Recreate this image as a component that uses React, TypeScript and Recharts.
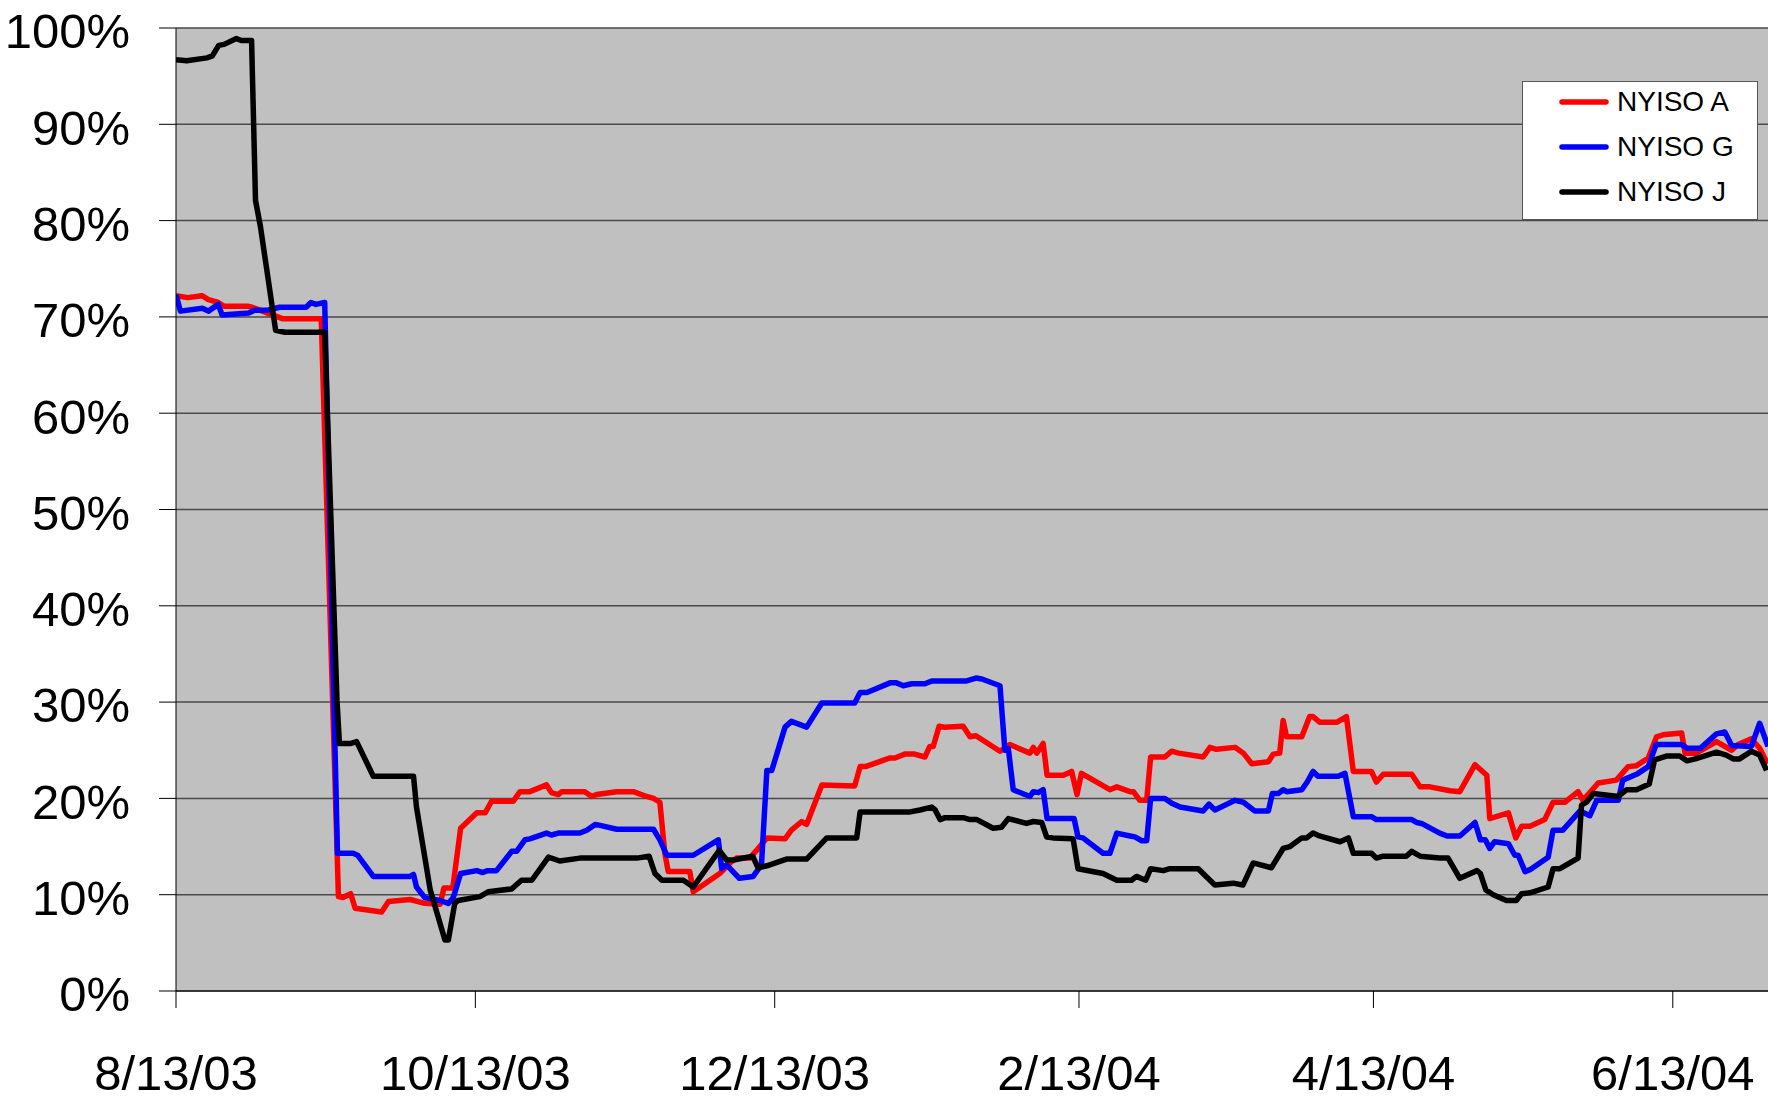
import { LineChart, Line, XAxis, YAxis, CartesianGrid, Legend } from "recharts"

const FONT = "'Liberation Sans', Arial, sans-serif"

// x axis: days since 8/13/03
const tickDays = [0, 61, 122, 184, 244, 305]
const tickLabels = ["8/13/03", "10/13/03", "12/13/03", "2/13/04", "4/13/04", "6/13/04"]
const pctTicks = [0, 10, 20, 30, 40, 50, 60, 70, 80, 90, 100]

const redDays = [
  0, 2.4, 5.3, 6.6, 8.6, 9.8, 14.8, 15.5, 18.7, 21.8, 29.6, 33.1, 34, 35.6, 36.5, 41.9, 43.3, 47.7, 50.7, 53.8,
  54.6, 56.4, 58, 61.3, 63, 64.3, 68.7, 70.1, 72.1, 75.5, 76.5, 77.9, 78.6, 83.3, 84.7, 85.7, 89.8, 93.2, 95.9, 97.3,
  98.6, 99.6, 100.3, 104.7, 105.4, 110.8, 112.9, 114.2, 116.9, 118.3, 120.4, 124.1, 125.4, 127.5, 128.5, 131.6, 138.3, 139.4, 140.5, 145.5,
  146.5, 148.5, 150.5, 152.6, 153.6, 154.3, 155.5, 156.5, 160.4, 161.8, 163, 167.9, 169.9, 174, 174.7, 175.4, 176.7, 177.5, 180.8, 182.5,
  183.6, 184.5, 190.3, 191.7, 194.4, 195.1, 196.4, 197.8, 198.6, 201.5, 202.9, 204.3, 209.3, 210.7, 212, 215.8, 217.5, 219.2, 222.6, 223.6,
  224.9, 225.6, 226.3, 229.4, 231, 231.7, 233.1, 236.5, 238.5, 239.9, 243.6, 244.6, 246, 251.8, 253.5, 255.5, 259.6, 261.6, 264.7, 267.1,
  267.7, 271.5, 273, 274.2, 275.9, 278.9, 280.6, 283, 285.7, 286.7, 289.8, 293.5, 295.9, 297.6, 300, 301.7, 303, 306.8, 307.5, 309.8,
  313.9, 317, 318.3, 321, 322.7, 324.3,
]
const redVals = [
  72.2, 72.0, 72.2, 71.8, 71.5, 71.1, 71.1, 71.0, 70.4, 69.8, 69.8, 9.8, 9.7, 10.1, 8.6, 8.2, 9.3, 9.5, 9.1, 9.0,
  10.7, 10.7, 16.9, 18.5, 18.5, 19.7, 19.7, 20.7, 20.7, 21.4, 20.6, 20.4, 20.7, 20.7, 20.2, 20.4, 20.7, 20.7, 20.2, 20.0,
  19.6, 14.3, 12.4, 12.4, 10.3, 12.2, 13.3, 13.8, 13.8, 14.6, 15.9, 15.8, 16.7, 17.6, 17.3, 21.4, 21.3, 23.3, 23.3, 24.2,
  24.2, 24.6, 24.6, 24.3, 25.4, 25.4, 27.5, 27.4, 27.5, 26.4, 26.5, 24.9, 25.6, 24.7, 25.3, 24.7, 25.7, 22.4, 22.4, 22.8,
  20.4, 22.6, 20.9, 21.2, 20.7, 20.7, 19.8, 19.8, 24.3, 24.3, 24.9, 24.7, 24.3, 25.3, 25.1, 25.3, 24.7, 23.6, 23.8, 24.6,
  24.7, 28.1, 26.4, 26.4, 28.5, 28.5, 27.9, 27.9, 28.5, 22.8, 22.8, 21.7, 22.5, 22.5, 21.2, 21.2, 20.8, 20.7, 23.5, 22.4,
  17.9, 18.5, 15.9, 17.1, 17.1, 17.8, 19.6, 19.6, 20.7, 19.8, 21.6, 21.9, 23.3, 23.4, 24.2, 26.4, 26.6, 26.8, 24.7, 24.7,
  25.9, 25.0, 25.6, 26.2, 25.2, 23.6,
]

const blueDays = [
  0, 0.9, 5.4, 6.6, 8.6, 9.4, 14.8, 16, 18.7, 21.1, 26.5, 27.5, 28.5, 30.3, 32.9, 36.1, 37, 40.2, 47.7, 48.4,
  49, 50.7, 53.8, 55.5, 56.5, 58, 61.3, 62.5, 63.5, 65.3, 68.4, 69.4, 71.1, 72.1, 75.5, 76.5, 77.9, 82.3, 83.7, 85.4,
  86.4, 89.8, 97.3, 98.6, 100, 105.4, 110.5, 111.2, 112.2, 114.8, 117.6, 119.3, 120.4, 121.4, 124.1, 125.4, 128.5, 131.6, 138.3, 139.4,
  140.8, 145.5, 146.8, 148.2, 149.9, 152.6, 154, 161.1, 163, 164.2, 167.9, 168.9, 169.6, 170.6, 174, 174.7, 175.7, 176.7, 177.5, 183,
  183.8, 184.8, 188.9, 190.3, 191.7, 194.4, 195.4, 196.8, 197.8, 198.6, 201.5, 202.9, 204.6, 209.3, 210.5, 211.7, 215.8, 217.5, 219.8, 222.6,
  223.4, 224.6, 225.6, 226.3, 229.4, 230.5, 231.7, 232.7, 236.8, 238.2, 239.9, 243.6, 244.6, 251.8, 252.8, 253.8, 257.5, 259, 261.6, 264.7,
  265.8, 266.8, 267.7, 268.7, 271.5, 272.8, 273.5, 274.9, 275.9, 279.6, 280.6, 282.6, 286.1, 288.1, 289.5, 293.9, 294.8, 297.6, 300, 301.6,
  306.8, 307.9, 310.6, 313.9, 315.6, 317, 321, 322.7, 324.4,
]
const blueVals = [
  72.3, 70.6, 70.9, 70.6, 71.3, 70.2, 70.4, 70.7, 70.7, 71.0, 71.0, 71.5, 71.3, 71.5, 14.3, 14.3, 14.1, 11.9, 11.9, 12.1,
  10.8, 9.7, 9.4, 9.1, 9.7, 12.2, 12.5, 12.3, 12.5, 12.5, 14.5, 14.5, 15.7, 15.8, 16.4, 16.2, 16.4, 16.4, 16.7, 17.3,
  17.2, 16.8, 16.8, 15.7, 14.1, 14.1, 15.7, 12.7, 13.1, 11.7, 11.9, 13.1, 22.9, 22.9, 27.4, 28.0, 27.4, 29.9, 29.9, 31.0,
  31.0, 32.0, 32.0, 31.7, 31.9, 31.9, 32.2, 32.2, 32.5, 32.4, 31.7, 25.0, 25.2, 20.9, 20.2, 20.7, 20.6, 20.9, 17.9, 17.9,
  16.0, 15.9, 14.3, 14.3, 16.4, 16.1, 16.0, 15.6, 15.6, 20.0, 20.0, 19.5, 19.1, 18.7, 19.4, 18.8, 19.8, 19.6, 18.7, 18.7,
  20.5, 20.5, 20.9, 20.7, 20.9, 21.7, 22.8, 22.3, 22.3, 22.6, 18.1, 18.1, 17.8, 17.8, 17.5, 17.4, 16.4, 16.1, 16.1, 17.5,
  15.7, 15.7, 14.8, 15.5, 15.3, 14.1, 14.1, 12.4, 12.6, 13.9, 16.7, 16.7, 18.7, 18.2, 19.8, 19.8, 21.9, 22.5, 23.3, 25.6,
  25.6, 25.2, 25.2, 26.7, 26.9, 25.5, 25.4, 27.8, 25.4,
]

const blackDays = [
  0, 2.2, 6.3, 7.4, 8.7, 9.8, 12.3, 13.3, 15.4, 16.2, 17.2, 18.7, 20.3, 22.2, 30.3, 32.8, 33.3, 35.5, 36.8, 40.2,
  48.4, 49, 51.8, 54.8, 55.5, 56.8, 57.5, 61.9, 63.6, 68.4, 70.4, 72.5, 75.9, 78.2, 82.3, 93.9, 96.4, 97.6, 99, 103.4,
  105.4, 110.7, 112.2, 113.6, 117.5, 118.6, 120.4, 124.4, 128.5, 132.6, 138.7, 139.4, 149.6, 151.6, 154, 154.7, 155.7, 156.7, 160.4, 161.8,
  163.2, 166.5, 168.2, 169.6, 173.3, 174.7, 176.4, 177.4, 178.7, 182.8, 183.8, 188.9, 191.7, 194.7, 195.7, 197.6, 198.6, 201.2, 202.5, 208.3,
  209.7, 211.7, 215.4, 217.4, 219.5, 223.2, 225.6, 227, 229.4, 230.4, 231.7, 233, 237.2, 238.9, 239.9, 243.6, 244.6, 246, 250.7, 251.8,
  253.5, 257.5, 259.2, 261.6, 265.1, 265.8, 266.9, 268.4, 271.1, 273.1, 274.2, 275.9, 279.6, 280.6, 282, 285.7, 286.4, 287.4, 288.8, 293.9,
  295.6, 297.6, 300.2, 301.3, 303.7, 306.4, 307.9, 309.6, 313.9, 315.9, 317.3, 318.6, 321, 322.7, 324.1,
]
const blackVals = [
  96.7, 96.6, 96.9, 97.1, 98.2, 98.3, 98.9, 98.7, 98.7, 82.1, 79.4, 74.2, 68.6, 68.4, 68.4, 30.2, 25.7, 25.7, 25.9, 22.3,
  22.3, 19.1, 10.5, 5.3, 5.3, 9.1, 9.4, 9.8, 10.3, 10.6, 11.5, 11.5, 13.9, 13.5, 13.8, 13.8, 14.0, 12.2, 11.5, 11.5,
  10.8, 14.6, 13.6, 13.6, 14.0, 12.8, 13.0, 13.7, 13.7, 15.9, 15.9, 18.6, 18.6, 18.8, 19.1, 18.8, 17.8, 18.0, 18.0, 17.8,
  17.8, 16.9, 17.0, 17.9, 17.4, 17.6, 17.5, 16.0, 15.9, 15.8, 12.7, 12.2, 11.5, 11.5, 11.9, 11.5, 12.7, 12.5, 12.7, 12.7,
  12.0, 11.0, 11.2, 11.0, 13.3, 12.8, 14.8, 15.0, 15.9, 15.9, 16.4, 16.1, 15.5, 15.9, 14.3, 14.3, 13.8, 14.0, 14.0, 14.5,
  14.0, 13.8, 13.8, 11.7, 12.5, 12.2, 10.5, 10.0, 9.4, 9.4, 10.1, 10.2, 10.8, 12.7, 12.7, 13.8, 19.3, 19.6, 20.5, 20.2,
  20.9, 20.9, 21.5, 24.0, 24.4, 24.4, 23.9, 24.1, 24.8, 24.5, 24.1, 24.1, 24.9, 24.5, 22.9,
]

const toPoints = (days: number[], vals: number[]) => days.map((d, i) => ({ d, v: vals[i] }))

const series = [
  { name: "NYISO A", color: "#FF0000", data: toPoints(redDays, redVals) },
  { name: "NYISO G", color: "#0000FF", data: toPoints(blueDays, blueVals) },
  { name: "NYISO J", color: "#000000", data: toPoints(blackDays, blackVals) },
]

function LegendBox() {
  return (
    <div
      style={{
        width: 236,
        height: 139,
        boxSizing: "border-box",
        background: "#fff",
        border: "1px solid #555",
        position: "relative",
        fontFamily: FONT,
      }}
    >
      {series.map((s, i) => (
        <div key={s.name} style={{ position: "absolute", left: 36, top: 20 + i * 45 - 15, height: 30, display: "flex", alignItems: "center" }}>
          <svg width={52} height={10} style={{ display: "block" }}>
            <line x1={3} y1={5} x2={47} y2={5} stroke={s.color} strokeWidth={5.5} strokeLinecap="round" />
          </svg>
          <span style={{ fontSize: 28, lineHeight: "30px", color: "#000", marginLeft: 6 }}>{s.name}</span>
        </div>
      ))}
    </div>
  )
}

export default function App() {
  return (
    <div style={{ position: "absolute", left: 0, top: 0, width: 1768, height: 1100, background: "#fff" }}>
      <LineChart width={1768} height={1100} margin={{ top: 28, right: 0, bottom: 0, left: 0 }}>
        <CartesianGrid vertical={false} stroke="#4a4a4a" strokeWidth={1.5} fill="#C0C0C0" fillOpacity={1} />
        <XAxis
          dataKey="d"
          type="number"
          domain={[0, 324.4]}
          allowDataOverflow
          ticks={tickDays}
          tickFormatter={(v: number) => tickLabels[tickDays.indexOf(v)] ?? ""}
          height={109}
          tickSize={17}
          tickMargin={47}
          stroke="#000"
          tick={{ fill: "#000", fontSize: 49, fontFamily: FONT }}
          interval={0}
        />
        <YAxis
          type="number"
          domain={[0, 100]}
          ticks={pctTicks}
          tickFormatter={(v: number) => `${v}%`}
          width={176}
          tickSize={17}
          tickMargin={29}
          stroke="#000"
          tick={{ fill: "#000", fontSize: 49, fontFamily: FONT, dy: 3 }}
          interval={0}
        />
        <Legend
          layout="vertical"
          align="center"
          verticalAlign="middle"
          content={() => <LegendBox />}
          wrapperStyle={{ left: 1522, top: 81, width: 236, height: 139 }}
        />
        {series.map((s) => (
          <Line
            key={s.name}
            data={s.data}
            dataKey="v"
            name={s.name}
            type="linear"
            stroke={s.color}
            strokeWidth={5.5}
            strokeLinejoin="round"
            dot={false}
            activeDot={false}
            isAnimationActive={false}
          />
        ))}
      </LineChart>
    </div>
  )
}
